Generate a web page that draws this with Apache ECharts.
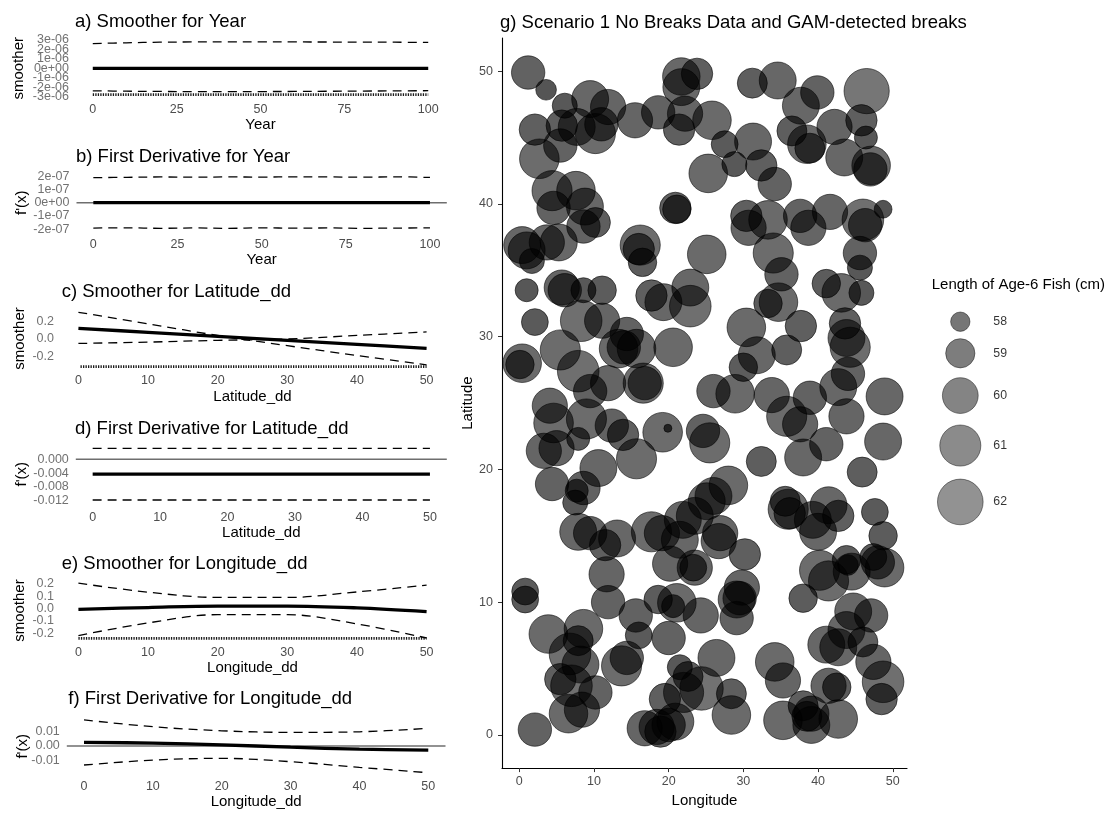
<!DOCTYPE html>
<html><head><meta charset="utf-8">
<script src="https://cdn.jsdelivr.net/npm/echarts@6/dist/echarts.min.js"></script>
<style>html,body{margin:0;padding:0;background:#fff}#c{width:1113px;height:813px}</style>
</head><body><div id="c"></div>
<script>
// ---------------- data: left panels ----------------
const yearX = [0, 10, 20, 30, 40, 50, 60, 70, 80, 90, 100];
const aFit   = [0, 0, 0, 0, 0, 0, 0, 0, 0, 0, 0];
const aUpper = [2.62e-6, 2.70e-6, 2.76e-6, 2.79e-6, 2.80e-6, 2.80e-6, 2.79e-6, 2.78e-6, 2.77e-6, 2.76e-6, 2.74e-6];
const aLower = [-2.38e-6, -2.42e-6, -2.45e-6, -2.47e-6, -2.47e-6, -2.46e-6, -2.45e-6, -2.43e-6, -2.41e-6, -2.39e-6, -2.37e-6];
const bFit   = [0, 0, 0, 0, 0, 0, 0, 0, 0, 0, 0];
const bUpper = [1.90e-7, 1.92e-7, 1.95e-7, 1.93e-7, 1.95e-7, 1.94e-7, 1.96e-7, 1.95e-7, 1.93e-7, 1.96e-7, 1.91e-7];
const bLower = [-1.92e-7, -1.90e-7, -1.94e-7, -1.91e-7, -1.94e-7, -1.90e-7, -1.93e-7, -1.91e-7, -1.94e-7, -1.92e-7, -1.91e-7];
const latX   = [0, 10, 20, 30, 40, 50];
const cFit   = [0.12, 0.075, 0.03, -0.015, -0.06, -0.105];
const cUpper = [0.30, 0.17, 0.04, -0.075, -0.185, -0.29];
const cLower = [-0.05, -0.035, -0.015, 0.0, 0.04, 0.08];
const dX     = [0, 50];
const dFit   = [-0.0043, -0.0043];
const dUpper = [0.0032, 0.0032];
const dLower = [-0.0118, -0.0118];
const lonX   = [0, 10, 20, 30, 40, 50];
const eFit   = [-0.007, 0.008, 0.02, 0.02, 0.005, -0.025];
const eUpper = [0.206, 0.133, 0.09, 0.09, 0.135, 0.19];
const eLower = [-0.22, -0.117, -0.05, -0.05, -0.125, -0.24];
const fFit   = [0.0025, 0.002, 0.0008, -0.0008, -0.0022, -0.0028];
const fUpper = [0.018, 0.0133, 0.0105, 0.0094, 0.0098, 0.0122];
const fLower = [-0.0131, -0.0097, -0.0085, -0.0108, -0.0147, -0.0184];

const yearTicks = [0, 25, 50, 75, 100];
const ddTicks = [0, 10, 20, 30, 40, 50];
const aYTicks = [-3e-6, -2e-6, -1e-6, 0, 1e-6, 2e-6, 3e-6];
const bYTicks = [-2e-7, -1e-7, 0, 1e-7, 2e-7];
const cYTicks = [-0.2, 0, 0.2];
const dYTicks = [-0.012, -0.008, -0.004, 0];
const eYTicks = [-0.2, -0.1, 0, 0.1, 0.2];
const fYTicks = [-0.01, 0, 0.01];

// ---------------- data: bubble panel ----------------
const lon = [1.2,3.6,6.1,9.5,11.9,2.1,5.7,7.7,10.2,11.0,2.7,5.5,15.5,18.6,21.7,23.8,21.7,22.2,21.4,25.8,27.5,28.8,31.3,32.4,31.2,34.6,37.7,39.9,36.5,38.5,38.9,42.2,45.8,46.5,46.4,43.5,47.1,47.0,25.3,
4.4,7.6,4.6,8.8,10.2,8.6,0.4,1.0,1.7,3.7,5.3,16.2,16.0,16.5,20.9,21.1,25.1,34.2,30.4,30.7,33.3,34.0,37.6,38.7,41.6,46.0,46.3,48.7,45.6,45.6,35.1,34.7,33.3,41.1,43.1,45.8,43.6,37.7,30.4,1.0,5.7,6.1,8.6,11.1,2.1,8.3,11.1,14.4,17.7,19.3,22.9,22.9,
0.4,0.1,5.5,7.9,9.5,11.9,13.3,14.0,15.7,16.6,16.8,20.6,26.0,28.9,31.8,30.0,35.8,33.8,35.8,37.6,38.9,42.7,44.0,43.8,44.3,48.9,43.8,48.7,41.1,4.1,4.6,9.0,12.4,13.9,5.0,3.3,7.9,10.6,15.7,19.2,19.9,24.6,25.5,32.4,38.0,45.9,
4.4,7.7,8.6,7.5,7.9,9.5,11.5,13.1,17.7,19.1,21.5,21.9,23.5,25.1,26.0,28.0,26.9,26.7,30.2,20.2,23.5,23.3,11.7,11.9,15.6,18.6,21.1,20.6,24.3,29.8,29.5,29.1,35.6,36.0,36.2,39.3,41.4,42.7,40.0,47.6,48.7,40.2,41.4,43.8,44.0,44.5,47.4,48.9,48.0,38.0,44.7,47.1,0.8,0.8,
3.9,8.6,7.9,6.8,8.2,5.5,7.0,10.2,6.6,8.4,2.1,13.7,14.4,16.0,20.0,26.4,21.5,22.6,24.4,22.0,19.5,16.8,18.4,20.0,20.9,18.9,28.4,28.4,29.1,34.2,35.3,35.3,38.0,38.5,39.1,39.1,42.7,41.4,42.5,41.1,42.7,43.8,46.0,47.4,48.7,48.5];
const lat = [49.9,48.6,47.4,47.9,47.3,45.6,45.9,45.8,45.3,46.0,43.4,44.4,46.3,46.9,49.6,49.8,48.8,46.8,45.6,46.3,44.5,43.0,44.7,42.9,49.1,49.3,47.4,48.4,45.5,44.5,44.2,45.8,46.3,48.5,45.0,43.5,42.9,42.6,42.3,
41.0,41.0,39.7,39.8,38.6,38.3,36.9,36.5,35.7,37.1,37.1,36.9,36.6,35.6,39.7,39.6,36.2,41.5,39.1,38.2,38.8,36.3,39.1,38.2,39.4,38.8,38.4,39.6,36.3,35.2,34.7,32.6,32.5,34.0,33.3,33.3,31.0,30.8,30.7,33.5,33.7,33.5,33.5,33.5,31.1,31.2,31.2,30.2,33.1,32.6,33.7,32.3,
28.0,27.9,29.0,27.4,25.9,26.5,29.1,29.2,29.1,26.5,26.5,29.2,25.9,25.7,28.6,27.7,29.0,25.6,24.0,23.4,25.4,26.2,27.2,29.9,29.2,25.5,24.0,22.1,21.9,24.8,23.5,23.8,23.3,22.6,21.6,21.4,22.3,20.1,20.8,22.8,23.1,22.9,22.0,20.6,20.9,19.8,
18.9,18.4,18.6,17.5,15.3,15.2,14.3,14.8,15.3,15.2,14.7,16.2,16.5,17.6,18.0,18.8,15.2,14.6,13.6,12.9,12.6,12.6,12.1,10.0,9.0,10.2,9.95,9.7,9.0,11.1,10.3,10.2,17.6,17.0,16.7,16.2,17.3,16.5,15.3,16.8,15.0,12.4,11.6,13.2,12.8,12.3,13.4,12.6,13.0,10.3,9.3,9.0,10.8,10.2,
7.6,8.0,7.1,6.1,5.3,4.2,3.7,3.2,1.6,1.9,0.4,5.2,5.8,7.5,7.3,5.8,5.1,4.4,3.5,3.2,2.7,0.5,0.6,0.75,1.0,0.25,3.1,1.5,8.8,5.5,4.1,1.1,2.2,1.4,1.6,0.75,1.2,3.7,3.6,6.8,6.6,7.9,7.0,5.5,4.0,2.7];
const len = [59.6,58.1,58.5,60.2,59.9,59.3,59.3,60.2,60.8,59.6,60.7,59.6,59.9,59.6,60.3,59.3,60.2,59.9,59.3,60.5,58.7,58.5,60.2,59.3,59.1,60.2,60.2,59.6,59.1,60.5,59.1,59.9,59.3,61.9,58.3,60.2,60.5,59.6,60.5,
60.8,60.5,59.6,60.2,59.1,59.6,60.2,60.2,58.5,59.9,60.2,60.8,59.3,58.9,59.3,58.9,60.5,59.6,59.3,59.9,60.5,60.8,59.6,59.9,59.9,61.1,59.6,57.9,59.6,58.5,59.6,60.5,58.9,58.9,60.5,58.5,59.3,59.3,60.5,58.3,59.9,59.6,58.5,58.9,58.7,61.1,59.9,59.6,59.3,60.2,60.2,61.1,
60.5,58.9,60.8,61.1,59.6,59.9,60.5,59.6,60.5,60.8,59.6,60.5,59.6,60.5,60.2,58.9,59.1,59.9,60.8,59.9,59.6,60.2,59.6,60.2,60.8,60.2,59.9,60.2,59.6,59.9,60.7,60.8,59.6,59.3,59.9,59.9,58.3,60.2,60.8,60.7,57.6,59.6,60.8,59.1,60.2,59.1,
59.6,58.3,59.6,58.5,60.2,59.6,59.3,60.2,60.8,59.9,60.2,60.2,60.2,60.2,60.2,60.5,59.9,59.9,59.3,59.9,59.9,58.7,59.9,59.6,59.6,58.9,60.5,58.3,59.9,59.9,59.6,60.2,59.1,60.8,59.3,60.2,60.2,59.3,60.2,58.7,58.9,60.8,60.8,58.9,58.1,60.2,58.7,60.5,59.6,58.9,60.2,59.6,58.7,58.7,
60.5,60.5,59.1,61.1,60.2,59.3,61.1,59.6,60.5,59.9,59.6,60.8,59.6,58.7,59.6,60.2,58.5,59.1,61.5,60.8,59.3,59.9,59.9,59.6,60.2,59.3,59.1,60.5,59.6,60.5,59.9,60.5,59.1,59.1,59.9,60.2,60.5,59.9,58.9,60.2,60.2,60.2,59.1,59.9,61.1,59.3];
const legendVals = [58, 59, 60, 61, 62];
const bubbleTicks = [0, 10, 20, 30, 40, 50];

// ---------------- helpers ----------------
const FONT = 'Liberation Sans, Arial, sans-serif';
const TICK_FS = 12.5;
const sizeOf = v => 8 + 38.5 * Math.sqrt(Math.max(0, (v - 57.6) / 4.6));
const fillOf = v => 'rgba(0,0,0,' + Math.min(0.70, 0.67 - (v - 58) * 0.034).toFixed(3) + ')';
function sci(v) {
  if (Math.abs(v) < 1e-20) return '0e+00';
  const e = Math.floor(Math.log10(Math.abs(v)) + 1e-9);
  const m = Math.round(v / Math.pow(10, e));
  return m + 'e' + (e < 0 ? '-' : '+') + String(Math.abs(e)).padStart(2, '0');
}
const pairs = (xs, ys) => xs.map((x, i) => [x, ys[i]]);

const grids = [], xAxes = [], yAxes = [], series = [], titles = [];

function addPanel(p) {
  const gi = grids.length;
  grids.push({ left: p.left, top: p.top, width: p.width, height: p.height });
  xAxes.push({
    type: 'value', gridIndex: gi, min: p.xMin, max: p.xMax,
    axisLine: { show: false }, axisTick: { show: false }, splitLine: { show: false },
    axisLabel: { customValues: p.xTicks, showMinLabel: true, showMaxLabel: true,
      color: '#4d4d4d', fontSize: TICK_FS, fontFamily: FONT, margin: p.xMargin },
    name: p.xName, nameLocation: 'middle', nameGap: p.xNameGap,
    nameTextStyle: { color: '#000', fontSize: 15, fontFamily: FONT }
  });
  yAxes.push({
    type: 'value', gridIndex: gi, min: p.yMin, max: p.yMax,
    axisLine: { show: false }, axisTick: { show: false }, splitLine: { show: false },
    axisLabel: { show: false },
    name: p.yName, nameLocation: 'middle', nameGap: p.yNameGap,
    nameTextStyle: { color: '#000', fontSize: 15, fontFamily: FONT }
  });
  // y tick labels (ggplot prints all of them, even when they overlap)
  series.push({ type: 'scatter', xAxisIndex: gi, yAxisIndex: gi, silent: true, clip: false, symbolSize: 0, z: 5,
    data: p.yTicks.map(v => [p.xMin, v]),
    label: { show: true, position: 'left', distance: 7, formatter: q => p.yFmt(q.value[1]),
      color: '#4d4d4d', fontSize: TICK_FS, fontFamily: FONT },
    labelLayout: { hideOverlap: false } });
  if (p.hline) {
    series.push({ type: 'line', xAxisIndex: gi, yAxisIndex: gi, symbol: 'none', silent: true, z: 1,
      data: [[p.xMin, 0], [p.xMax, 0]], lineStyle: { color: '#6e6e6e', width: 1.4 } });
  }
  if (p.rug) {
    series.push({ type: 'line', xAxisIndex: gi, yAxisIndex: gi, symbol: 'none', silent: true, z: 2,
      data: [[p.rug[0], p.rug[2]], [p.rug[1], p.rug[2]]], lineStyle: { color: '#1a1a1a', width: 2.6, type: [1.3, 1.2] } });
  }
  [p.upper, p.lower].forEach(arr => series.push({
    type: 'line', xAxisIndex: gi, yAxisIndex: gi, symbol: 'none', silent: true, z: 3, smooth: 0.35,
    data: pairs(p.x, arr), lineStyle: { color: '#000', width: 1.3, type: [9, 6] }
  }));
  series.push({ type: 'line', xAxisIndex: gi, yAxisIndex: gi, symbol: 'none', silent: true, z: 4, smooth: 0.35,
    data: pairs(p.x, p.fit), lineStyle: { color: '#000', width: 3.3 } });
  titles.push({ text: p.title, left: p.tLeft, top: p.tTop, padding: 0,
    textStyle: { fontSize: 18.5, fontWeight: 'normal', color: '#000', fontFamily: FONT } });
}

addPanel({ title: 'a) Smoother for Year', tLeft: 75, tTop: 12.7,
  left: 76, top: 39, width: 369, height: 58.6, xMin: -5, xMax: 105, xTicks: yearTicks, xName: 'Year', xMargin: 5, xNameGap: 20,
  yMin: -3.1e-6, yMax: 3.1e-6, yTicks: aYTicks, yFmt: sci, yName: 'smoother', yNameGap: 50,
  x: yearX, fit: aFit, upper: aUpper, lower: aLower, hline: false, rug: [0, 100, -2.78e-6] });
addPanel({ title: 'b) First Derivative for Year', tLeft: 76, tTop: 147.7,
  left: 76.5, top: 174.3, width: 370.3, height: 56.8, xMin: -5, xMax: 105, xTicks: yearTicks, xName: 'Year', xMargin: 7, xNameGap: 20,
  yMin: -2.15e-7, yMax: 2.15e-7, yTicks: bYTicks, yFmt: sci, yName: "f'(x)", yNameGap: 47,
  x: yearX, fit: bFit, upper: bUpper, lower: bLower, hline: true, rug: null });
addPanel({ title: 'c) Smoother for Latitude_dd', tLeft: 61.7, tTop: 282.7,
  left: 61, top: 309.6, width: 383, height: 57.9, xMin: -2.5, xMax: 52.5, xTicks: ddTicks, xName: 'Latitude_dd', xMargin: 6.5, xNameGap: 21.5,
  yMin: -0.32, yMax: 0.33, yTicks: cYTicks, yFmt: v => v.toFixed(1), yName: 'smoother', yNameGap: 33.5,
  x: latX, fit: cFit, upper: cUpper, lower: cLower, hline: false, rug: [0.3, 50, -0.31] });
addPanel({ title: 'd) First Derivative for Latitude_dd', tLeft: 75, tTop: 419.4,
  left: 75.8, top: 445.7, width: 371, height: 56.9, xMin: -2.5, xMax: 52.5, xTicks: ddTicks, xName: 'Latitude_dd', xMargin: 8, xNameGap: 22.5,
  yMin: -0.01255, yMax: 0.00395, yTicks: dYTicks, yFmt: v => v.toFixed(3), yName: "f'(x)", yNameGap: 46.6,
  x: dX, fit: dFit, upper: dUpper, lower: dLower, hline: true, rug: null });
addPanel({ title: 'e) Smoother for Longitude_dd', tLeft: 61.7, tTop: 554.4,
  left: 61, top: 580.5, width: 383, height: 60.2, xMin: -2.5, xMax: 52.5, xTicks: ddTicks, xName: 'Longitude_dd', xMargin: 5, xNameGap: 20,
  yMin: -0.262, yMax: 0.228, yTicks: eYTicks, yFmt: v => v.toFixed(1), yName: 'smoother', yNameGap: 33.5,
  x: lonX, fit: eFit, upper: eUpper, lower: eLower, hline: false, rug: [0.0, 50, -0.243] });
addPanel({ title: 'f) First Derivative for Longitude_dd', tLeft: 68.3, tTop: 689.4,
  left: 66.8, top: 717.3, width: 378.7, height: 58, xMin: -2.5, xMax: 52.5, xTicks: ddTicks, xName: 'Longitude_dd', xMargin: 5, xNameGap: 19.5,
  yMin: -0.0202, yMax: 0.0198, yTicks: fYTicks, yFmt: v => v.toFixed(2), yName: "f'(x)", yNameGap: 36.6,
  x: lonX, fit: fFit, upper: fUpper, lower: fLower, hline: true, rug: null });

// ---------------- bubble panel ----------------
const bg = grids.length;
grids.push({ left: 502, top: 38, width: 405, height: 737 });
xAxes.push({ type: 'value', gridIndex: bg, min: -2.3, max: 51.9,
  axisLine: { show: true, onZero: false, lineStyle: { color: '#000', width: 1.1 } },
  axisTick: { show: true, length: 4, customValues: bubbleTicks, lineStyle: { color: '#333', width: 1 } },
  splitLine: { show: false },
  axisLabel: { customValues: bubbleTicks, showMinLabel: true, showMaxLabel: true, color: '#4d4d4d', fontSize: TICK_FS, fontFamily: FONT, margin: 7 },
  name: 'Longitude', nameLocation: 'middle', nameGap: 21, nameTextStyle: { color: '#000', fontSize: 15, fontFamily: FONT } });
yAxes.push({ type: 'value', gridIndex: bg, min: -2.5, max: 52.5,
  axisLine: { show: true, onZero: false, lineStyle: { color: '#000', width: 1.1 } },
  axisTick: { show: true, length: 4, customValues: bubbleTicks, lineStyle: { color: '#333', width: 1 } },
  splitLine: { show: false },
  axisLabel: { customValues: bubbleTicks, showMinLabel: true, showMaxLabel: true, color: '#4d4d4d', fontSize: TICK_FS, fontFamily: FONT, margin: 9 },
  name: 'Latitude', nameLocation: 'middle', nameGap: 24, nameTextStyle: { color: '#000', fontSize: 15, fontFamily: FONT } });
const nB = Math.min(lon.length, lat.length, len.length);
const bubbleData = [];
for (let i = 0; i < nB; i++) bubbleData.push([lon[i], lat[i], len[i]]);
series.push({ type: 'scatter', xAxisIndex: bg, yAxisIndex: bg, silent: true, clip: false,
  data: bubbleData, symbolSize: v => sizeOf(v[2]),
  itemStyle: { color: p => fillOf(p.value[2]), borderColor: 'rgba(0,0,0,0.8)', borderWidth: 0.7, opacity: 1 } });
titles.push({ text: 'g) Scenario 1 No Breaks Data and GAM-detected breaks', left: 500, top: 13.4, padding: 0,
  textStyle: { fontSize: 18.5, fontWeight: 'normal', color: '#000', fontFamily: FONT } });

// ---------------- legend (size scale) ----------------
const lg = grids.length;
const legendY = [0];
for (let i = 1; i < legendVals.length; i++) {
  legendY.push(legendY[i - 1] + 1.3 * (sizeOf(legendVals[i - 1]) + sizeOf(legendVals[i])) / 2);
}
grids.push({ left: 960.3, top: 321.7, width: 100, height: 200 });
xAxes.push({ type: 'value', gridIndex: lg, min: 0, max: 100, show: false });
yAxes.push({ type: 'value', gridIndex: lg, min: 0, max: 200, inverse: true, show: false });
series.push({ type: 'scatter', xAxisIndex: lg, yAxisIndex: lg, silent: true, clip: false,
  data: legendVals.map((v, i) => [0, legendY[i], v]), symbolSize: v => sizeOf(v[2]),
  itemStyle: { color: p => fillOf(p.value[2]), borderColor: 'rgba(0,0,0,0.8)', borderWidth: 0.7 } });
series.push({ type: 'scatter', xAxisIndex: lg, yAxisIndex: lg, silent: true, clip: false, symbolSize: 0,
  data: legendVals.map((v, i) => [33, legendY[i], v]),
  label: { show: true, position: 'right', distance: 0, formatter: p => String(p.value[2]), color: '#000', fontSize: 12.3, fontFamily: FONT } });
titles.push({ text: 'Length of Age-6 Fish (cm)', left: 931.7, top: 277, padding: 0,
  textStyle: { fontSize: 15, fontWeight: 'normal', color: '#000', fontFamily: FONT } });

const chart = echarts.init(document.getElementById('c'), null, { renderer: 'canvas' });
chart.setOption({
  animation: false, backgroundColor: '#fff',
  title: titles, grid: grids, xAxis: xAxes, yAxis: yAxes, series: series
});
</script>
</body></html>
